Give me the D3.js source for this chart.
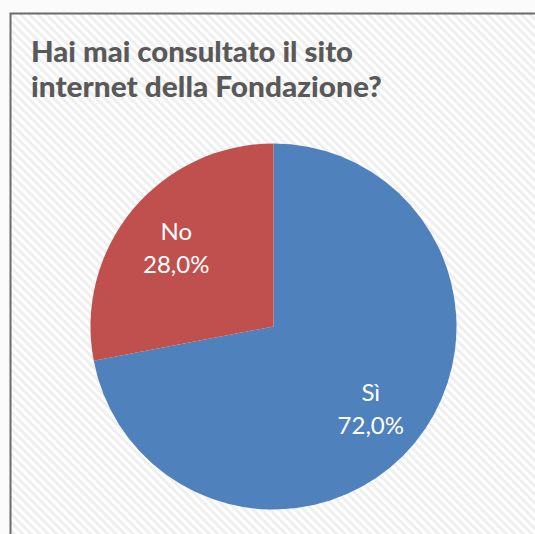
<!DOCTYPE html>
<html><head><meta charset="utf-8">
<script src="https://cdn.jsdelivr.net/npm/d3@7"></script>
<style>html,body{margin:0;padding:0;background:#fff;overflow:hidden}</style>
</head><body>
<svg id="c" width="535" height="534" style="display:block"></svg>
<script>
const categories = ["Sì", "No"];
const values = [72.0, 28.0];
const colors = ["#4F81BD", "#C0504D"];
const titleLines = ["Hai mai consultato il sito", "internet della Fondazione?"];

const svg = d3.select("#c");
const defs = svg.append("defs");
const pat = defs.append("pattern").attr("id","hatch").attr("patternUnits","userSpaceOnUse")
  .attr("width",6).attr("height",6).attr("patternTransform","rotate(45)");
pat.append("rect").attr("width",6).attr("height",6).attr("fill","#ffffff");
pat.append("rect").attr("width",6).attr("height",3).attr("fill","#efefef");

svg.append("rect").attr("x",0).attr("y",0).attr("width",535).attr("height",534).attr("fill","#fbfbfb");
svg.append("rect").attr("x",10).attr("y",13).attr("width",525).attr("height",521).attr("fill","url(#hatch)");
svg.append("path").attr("d","M10.5,534 V13.5 H535").attr("fill","none").attr("stroke","#6b6b6b").attr("stroke-width",2);

const title = svg.append("g");
titleLines.forEach((t,i)=>{
  title.append("text").attr("x",31).attr("y",62+i*35).text(t)
    .attr("font-family","Lato, 'Open Sans', sans-serif").attr("font-weight","900")
    .attr("font-size",28).attr("fill","#595959")
    .attr("textLength", i===0?322:351).attr("lengthAdjust","spacingAndGlyphs");
});

const cx = 273.5, cy = 326.5, r = 183;
const pie = d3.pie().sort(null).value(d=>d)(values);
const arc = d3.arc().innerRadius(0).outerRadius(r);
const g = svg.append("g").attr("transform",`translate(${cx},${cy})`);
g.selectAll("path").data(pie).join("path").attr("d",arc).attr("fill",(d,i)=>colors[i]);

const labelArc = d3.arc().innerRadius(r*0.69).outerRadius(r*0.69);
const fmt = v => v.toFixed(1).replace(".",",") + "%";
pie.forEach((d,i)=>{
  const [x,y] = labelArc.centroid(d);
  const t = g.append("text").attr("text-anchor","middle").attr("fill","#fff")
    .attr("font-family","Lato, 'Open Sans', sans-serif").attr("font-size",24);
  t.append("tspan").attr("x",x).attr("y",y-6).text(categories[i]);
  t.append("tspan").attr("x",x).attr("y",y+27).text(fmt(values[i]));
});
</script>
</body></html>
